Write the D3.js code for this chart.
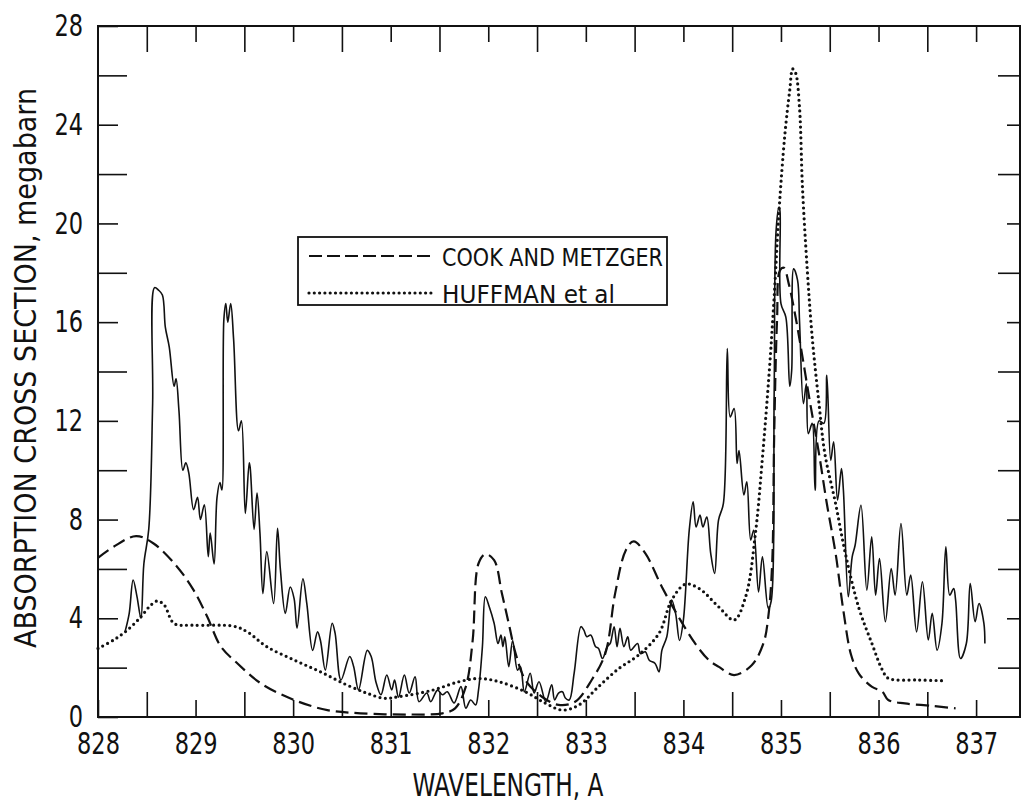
<!DOCTYPE html>
<html>
<head>
<meta charset="utf-8">
<script src="https://cdn.jsdelivr.net/npm/d3@7"></script>
<style>
  html, body { margin: 0; padding: 0; background: #fff; }
  svg { display: block; }
  text { font-family: "Liberation Sans Narrow", "DejaVu Sans Condensed", "Roboto", sans-serif; fill: #111; }
</style>
</head>
<body>
<script>
// ---------------- DATA ----------------
// Present measurement (solid line): wavelength (A) and cross section (Mb)
const solidWavelength = [
  828.28, 828.32, 828.36, 828.40, 828.44, 828.47, 828.52, 828.56, 828.58, 828.62, 828.66, 828.69,
  828.73, 828.78, 828.80, 828.83, 828.87, 828.90, 828.93, 828.98, 829.02, 829.05, 829.09, 829.13,
  829.15, 829.19, 829.22, 829.25, 829.27, 829.29, 829.31, 829.33, 829.36, 829.39, 829.44, 829.47,
  829.51, 829.55, 829.56, 829.60, 829.63, 829.66, 829.69, 829.73, 829.80, 829.84, 829.87, 829.92,
  829.97, 830.01, 830.04, 830.10, 830.14, 830.20, 830.25, 830.28, 830.33, 830.40, 830.43, 830.49,
  830.58, 830.62, 830.67, 830.76, 830.80, 830.85, 830.90, 830.96, 831.01, 831.04, 831.08, 831.14,
  831.19, 831.25, 831.29, 831.37, 831.41, 831.48, 831.53, 831.58, 831.65, 831.72, 831.77, 831.82,
  831.87, 831.90, 831.94, 831.97, 832.01, 832.06, 832.10, 832.13, 832.15, 832.17, 832.21, 832.25,
  832.30, 832.33, 832.37, 832.43, 832.47, 832.52, 832.59, 832.65, 832.68, 832.72, 832.76, 832.79,
  832.83, 832.88, 832.95, 832.98, 833.01, 833.05, 833.10, 833.13, 833.17, 833.22, 833.25, 833.29,
  833.32, 833.35, 833.39, 833.43, 833.46, 833.53, 833.56, 833.61, 833.65, 833.71, 833.75, 833.78,
  833.83, 833.88, 833.92, 833.96, 834.00, 834.06, 834.10, 834.13, 834.17, 834.20, 834.24, 834.28,
  834.32, 834.36, 834.41, 834.45, 834.48, 834.52, 834.55, 834.57, 834.62, 834.65, 834.69, 834.72,
  834.77, 834.81, 834.87, 834.90, 834.93, 834.95, 834.98, 834.99, 835.00, 835.05, 835.09, 835.11,
  835.13, 835.17, 835.19, 835.23, 835.26, 835.28, 835.32, 835.35, 835.39, 835.44, 835.47, 835.51,
  835.54, 835.58, 835.62, 835.64, 835.69, 835.73, 835.76, 835.82, 835.88, 835.93, 835.97, 836.01,
  836.07, 836.13, 836.17, 836.23, 836.29, 836.33, 836.39, 836.45, 836.51, 836.55, 836.60, 836.65,
  836.69, 836.73, 836.77, 836.79, 836.84, 836.90, 836.94, 836.99, 837.03, 837.08, 837.09
];
const solidValue = [
  3.5, 4.2, 5.55, 4.87, 4.0, 6.2, 7.6, 12.7, 17.4, 17.3, 17.1, 15.8,
  15.0, 13.4, 13.7, 12.4, 10.0, 10.3, 9.9, 8.4, 8.9, 8.0, 8.6, 6.5,
  7.45, 6.2, 8.9, 9.5, 9.2, 16.1, 16.75, 16.0, 16.75, 15.3, 11.6, 12.0,
  8.25, 10.3, 10.1, 7.6, 9.07, 7.45, 5.0, 6.7, 4.6, 7.65, 5.95, 4.2,
  5.27, 4.8, 3.6, 5.6, 4.6, 2.7, 3.45, 3.1, 1.9, 3.8, 3.4, 1.5,
  2.45, 2.05, 1.1, 2.7, 2.45, 1.4, 0.9, 1.7, 1.1, 1.5, 0.8, 1.7,
  0.97, 1.63, 0.62, 0.97, 0.62, 1.09, 0.9, 1.02, 0.57, 1.23, 0.36, 0.69,
  0.49, 1.09, 2.85, 4.87, 4.47, 3.8, 2.98, 3.32, 2.85, 3.25, 2.04, 3.1,
  1.9, 2.04, 1.02, 1.77, 0.97, 1.43, 0.62, 1.3, 0.69, 0.97, 1.02, 0.77,
  0.69, 1.77, 3.66, 3.52, 3.25, 3.32, 2.85, 2.78, 2.37, 2.85, 2.98, 3.66,
  2.85, 3.59, 2.85, 3.25, 2.71, 2.98, 2.57, 2.64, 2.3, 2.17, 1.83, 2.71,
  3.25, 4.74, 4.2, 3.1, 3.93, 7.57, 8.72, 7.7, 8.18, 7.7, 8.1, 6.63,
  5.82, 7.98, 8.66, 14.93, 12.16, 12.5, 10.27, 10.8, 9.0, 9.53, 7.17, 7.57,
  5.07, 6.49, 4.4, 4.7, 13.0, 19.7, 20.66, 20.5, 16.75, 16.2, 13.4, 14.05,
  18.16, 17.7, 16.07, 12.7, 13.5, 11.48, 11.9, 9.19, 12.0, 11.9, 13.85, 10.4,
  11.15, 8.79, 10.07, 9.19, 4.87, 6.49, 6.96, 8.58, 5.14, 7.3, 4.94, 6.42,
  3.86, 6.02, 4.94, 7.84, 4.94, 5.75, 3.45, 5.48, 3.12, 4.2, 2.71, 3.79,
  6.9, 4.94, 5.21, 4.74, 2.37, 2.98, 5.41, 3.86, 4.6, 3.79, 2.98
];

// COOK AND METZGER (dashed)
const cookWavelength = [
  828.00, 828.16, 828.39, 828.57, 828.81, 828.98, 829.12, 829.26, 829.43, 829.67, 830.01, 830.35,
  830.69, 831.20, 831.53, 831.66, 831.77, 831.84, 831.90, 831.97, 832.06, 832.14, 832.21, 832.28,
  832.38, 832.55, 832.72, 832.89, 833.06, 833.20, 833.30, 833.41, 833.49, 833.61, 833.78, 833.95,
  834.12, 834.26, 834.36, 834.52, 834.70, 834.82, 834.87, 834.91, 834.93, 834.96, 834.99, 835.03,
  835.08, 835.15, 835.22, 835.30, 835.39, 835.47, 835.56, 835.64, 835.72, 835.80, 835.93, 836.04,
  836.10, 836.27, 836.55, 836.79
];
const cookValue = [
  6.45, 6.9, 7.33, 7.03, 6.09, 5.14, 4.06, 2.85, 2.17, 1.36, 0.69, 0.28,
  0.15, 0.1, 0.15, 0.35, 1.23, 3.1, 6.22, 6.6, 6.36, 5.0, 3.79, 2.58,
  1.5, 0.82, 0.49, 0.62, 1.5, 2.58, 5.0, 6.76, 7.12, 6.63, 5.27, 4.06,
  2.98, 2.31, 2.04, 1.7, 2.1, 2.98, 4.06, 6.22, 11.3, 16.1, 18.1, 18.2,
  17.55, 16.2, 14.6, 12.7, 10.67, 8.65, 6.63, 4.3, 2.5, 1.75, 1.23, 1.02,
  0.69, 0.55, 0.45, 0.35
];

// HUFFMAN et al (dotted)
const huffmanWavelength = [
  828.00, 828.16, 828.30, 828.44, 828.54, 828.61, 828.68, 828.78, 828.98, 829.39, 829.53, 829.73,
  830.01, 830.28, 830.55, 830.76, 830.93, 831.08, 831.43, 831.70, 831.90, 832.11, 832.38, 832.59,
  832.76, 832.93, 833.13, 833.34, 833.54, 833.75, 833.88, 834.02, 834.16, 834.36, 834.52, 834.64,
  834.74, 834.81, 834.88, 834.93, 834.98, 835.04, 835.09, 835.12, 835.15, 835.19, 835.22, 835.27,
  835.32, 835.39, 835.45, 835.56, 835.66, 835.80, 835.93, 836.04, 836.10, 836.41, 836.68
];
const huffmanValue = [
  2.78, 3.12, 3.52, 4.06, 4.53, 4.7, 4.53, 3.79, 3.72, 3.68, 3.45, 2.85,
  2.31, 1.83, 1.3, 0.96, 0.76, 0.82, 1.09, 1.43, 1.56, 1.43, 1.02, 0.55,
  0.28, 0.49, 1.23, 1.97, 2.51, 3.39, 4.74, 5.38, 5.21, 4.47, 3.93, 4.9,
  7.5, 10.5, 14.0, 17.0, 20.5, 23.6, 25.4, 26.26, 26.1, 24.7, 21.5, 18.1,
  15.4, 12.7, 10.67, 8.65, 6.63, 4.4, 3.0, 1.9, 1.57, 1.5, 1.47
];

// Axis ticks and labels
const xLabelTicks = [828, 829, 830, 831, 832, 833, 834, 835, 836, 837];
const xHalfTicks = [828.5, 829.5, 830.5, 831.5, 832.5, 833.5, 834.5, 835.5, 836.5];
const yLabelTicks = [0, 4, 8, 12, 16, 20, 24, 28];
const yMinorTicks = [2, 6, 10, 14, 18, 22, 26];
const legendLabels = ["COOK AND METZGER", "HUFFMAN et al"];
const xTitle = "WAVELENGTH, A";
const yTitle = "ABSORPTION CROSS SECTION, megabarn";

// ---------------- CHART ----------------
(function () {
const W = 1021, H = 808;
const mL = 98, mR = 1020, mT = 26, mB = 717;

const svg = d3.select("body").append("svg").attr("width", W).attr("height", H);

const x = d3.scaleLinear().domain([828, 837.45]).range([mL, mR]);
const y = d3.scaleLinear().domain([0, 28]).range([mB, mT]);

const ink = "#111";

function styleAxis(g) {
  g.select(".domain").remove();
  g.selectAll(".tick line").attr("stroke", ink).attr("stroke-width", 1.6);
  g.selectAll(".tick text").attr("font-size", 30).attr("fill", ink)
    .attr("font-family", '"Liberation Sans Narrow", "DejaVu Sans Condensed", sans-serif')
    .each(function () {
      const t = d3.select(this);
      const s = t.text();
      if (s.length) t.attr("textLength", 14.3 * s.length).attr("lengthAdjust", "spacingAndGlyphs");
    });
}

// Bottom axis
svg.append("g").attr("transform", `translate(0,${mB})`)
  .call(d3.axisBottom(x).tickValues(xLabelTicks).tickSize(-17).tickPadding(16).tickFormat(d3.format("d")))
  .call(styleAxis);
svg.append("g").attr("transform", `translate(0,${mB})`)
  .call(d3.axisBottom(x).tickValues(xHalfTicks).tickSize(-25).tickFormat(""))
  .call(styleAxis);
// Top axis
svg.append("g").attr("transform", `translate(0,${mT})`)
  .call(d3.axisTop(x).tickValues(xLabelTicks.filter(v => v > 828)).tickSize(-16).tickFormat(""))
  .call(styleAxis);
svg.append("g").attr("transform", `translate(0,${mT})`)
  .call(d3.axisTop(x).tickValues(xHalfTicks).tickSize(-26).tickFormat(""))
  .call(styleAxis);
// Left axis
svg.append("g").attr("transform", `translate(${mL},0)`)
  .call(d3.axisLeft(y).tickValues(yLabelTicks).tickSize(-20).tickPadding(15).tickFormat(d3.format("d")))
  .call(styleAxis);
svg.append("g").attr("transform", `translate(${mL},0)`)
  .call(d3.axisLeft(y).tickValues(yMinorTicks).tickSize(-29).tickFormat(""))
  .call(styleAxis);
// Right axis
svg.append("g").attr("transform", `translate(${mR},0)`)
  .call(d3.axisRight(y).tickValues(yLabelTicks.filter(v => v > 0 && v < 28)).tickSize(-13).tickFormat(""))
  .call(styleAxis);
svg.append("g").attr("transform", `translate(${mR},0)`)
  .call(d3.axisRight(y).tickValues(yMinorTicks).tickSize(-22).tickFormat(""))
  .call(styleAxis);

// Frame
svg.append("rect")
  .attr("x", mL).attr("y", mT)
  .attr("width", mR - mL).attr("height", mB - mT)
  .attr("fill", "none").attr("stroke", ink).attr("stroke-width", 2);

// Lines
const line = d3.line().x(d => x(d[0])).y(d => y(d[1])).curve(d3.curveCatmullRom.alpha(0.5));

const solidData = solidWavelength.map((w, i) => [w, solidValue[i]]);
const cookData = cookWavelength.map((w, i) => [w, cookValue[i]]);
const huffData = huffmanWavelength.map((w, i) => [w, huffmanValue[i]]);

svg.append("path").datum(cookData).attr("d", line)
  .attr("fill", "none").attr("stroke", ink).attr("stroke-width", 2.2)
  .attr("stroke-dasharray", "13,6");

svg.append("path").datum(huffData).attr("d", line)
  .attr("fill", "none").attr("stroke", ink).attr("stroke-width", 3.2)
  .attr("stroke-linecap", "round").attr("stroke-dasharray", "0,5.4");

svg.append("path").datum(solidData).attr("d", line)
  .attr("fill", "none").attr("stroke", ink).attr("stroke-width", 1.6)
  .attr("stroke-linejoin", "round");

// Legend
const lg = svg.append("g");
lg.append("rect").attr("x", 298).attr("y", 237).attr("width", 369).attr("height", 68)
  .attr("fill", "#fff").attr("stroke", ink).attr("stroke-width", 1.8);
lg.append("line").attr("x1", 309).attr("x2", 434).attr("y1", 256).attr("y2", 256)
  .attr("stroke", ink).attr("stroke-width", 2.2).attr("stroke-dasharray", "13,5");
lg.append("line").attr("x1", 309).attr("x2", 434).attr("y1", 293).attr("y2", 293)
  .attr("stroke", ink).attr("stroke-width", 3.2).attr("stroke-linecap", "round").attr("stroke-dasharray", "0,5.3");
lg.append("text").attr("x", 442).attr("y", 266).attr("font-size", 25)
  .attr("textLength", 221).attr("lengthAdjust", "spacingAndGlyphs").text(legendLabels[0]);
lg.append("text").attr("x", 442).attr("y", 303).attr("font-size", 25)
  .attr("textLength", 173).attr("lengthAdjust", "spacingAndGlyphs").text(legendLabels[1]);

// Axis titles
svg.append("text").attr("x", 508).attr("y", 796).attr("text-anchor", "middle")
  .attr("font-size", 32).attr("textLength", 191).attr("lengthAdjust", "spacingAndGlyphs").text(xTitle);
svg.append("text").attr("transform", "translate(36,368) rotate(-90)").attr("text-anchor", "middle")
  .attr("font-size", 30).attr("textLength", 560).attr("lengthAdjust", "spacingAndGlyphs").text(yTitle);
})();
</script>
</body>
</html>
